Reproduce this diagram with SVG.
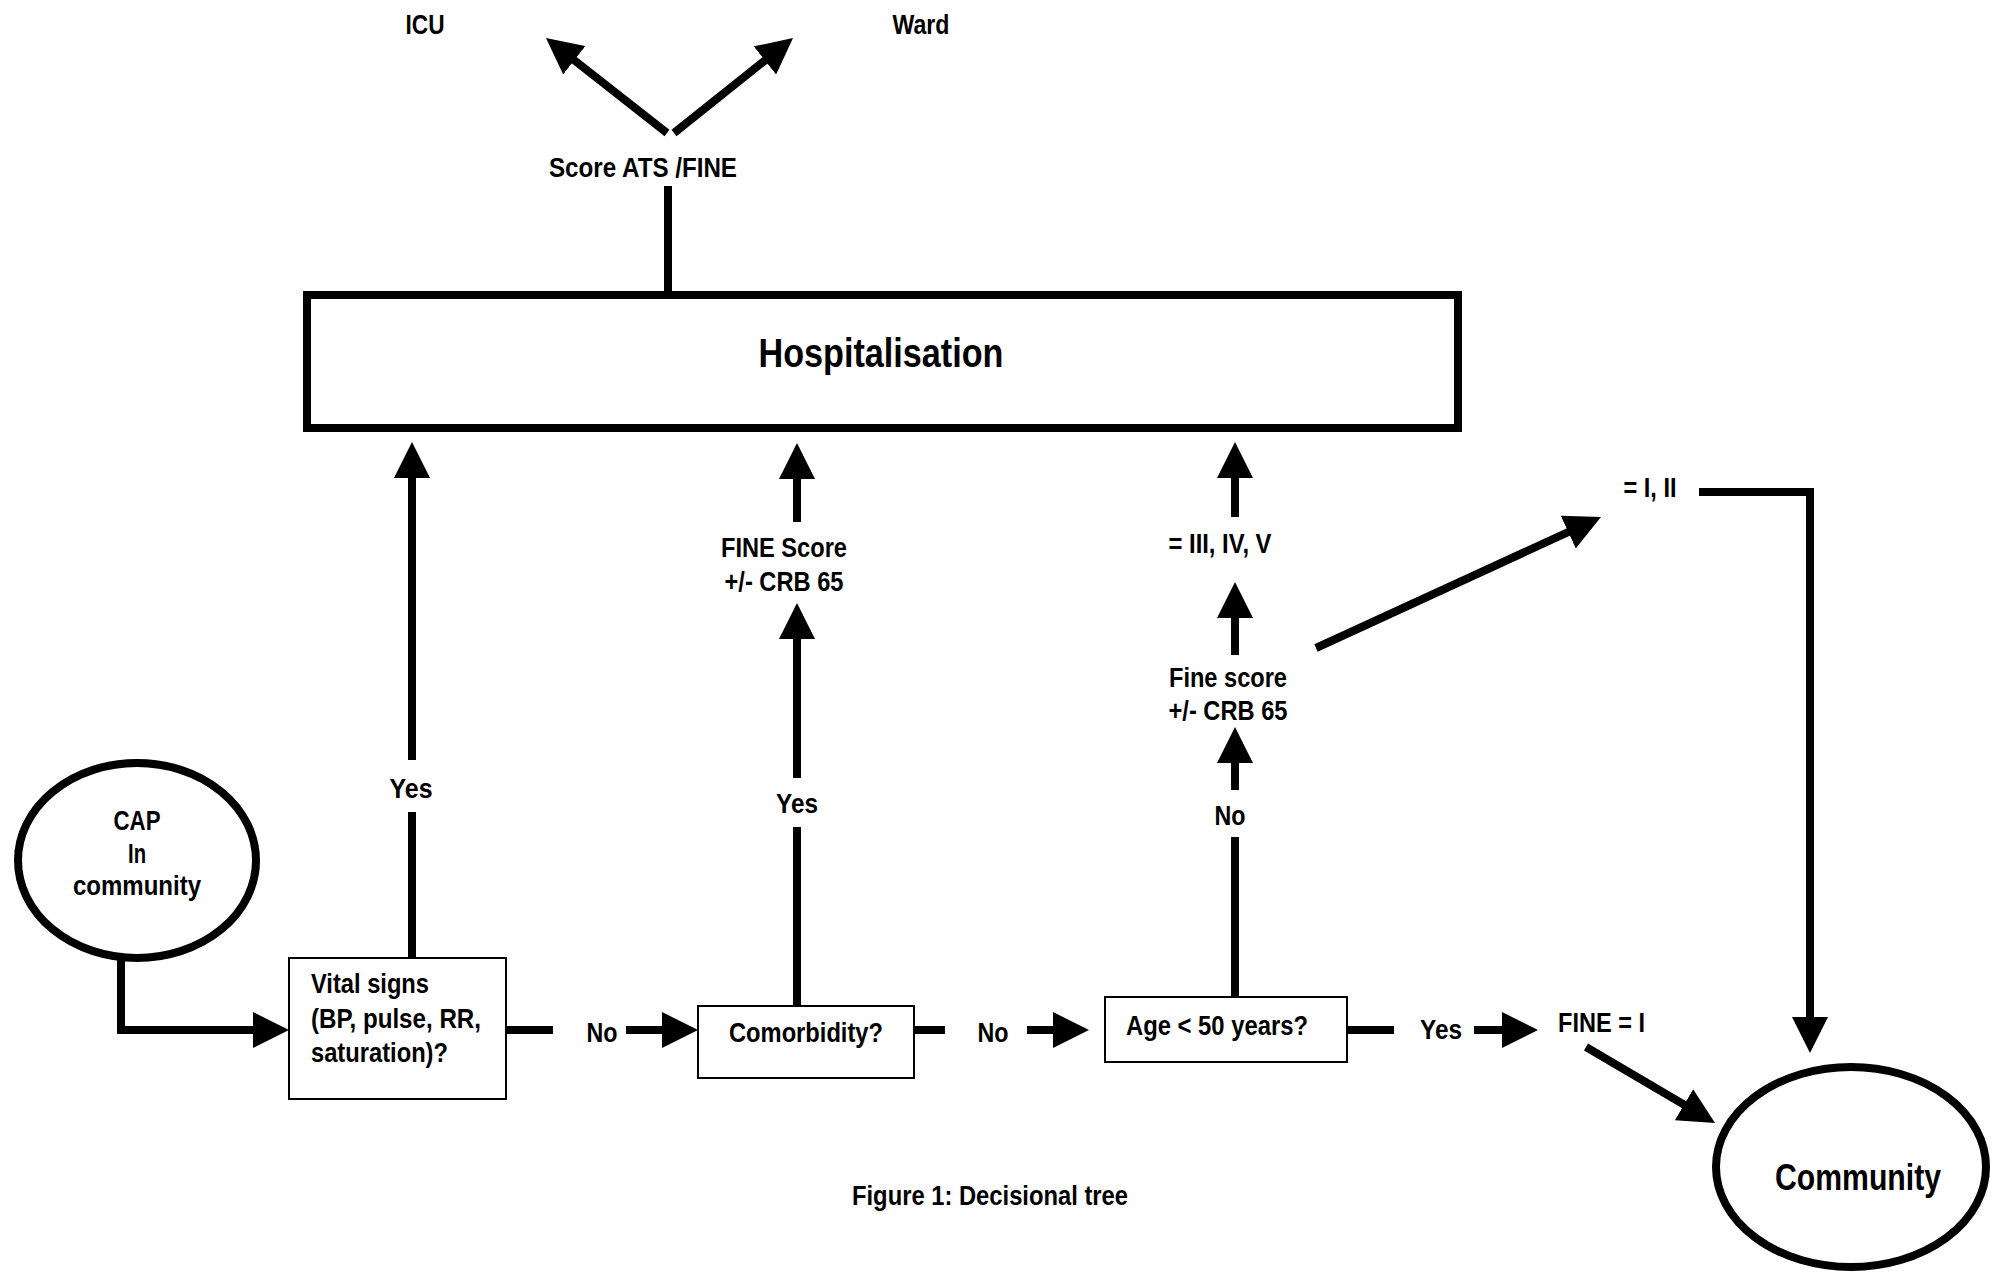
<svg xmlns="http://www.w3.org/2000/svg" width="1993" height="1275" viewBox="0 0 1993 1275">
<style>
text{font-family:"Liberation Sans",Arial,sans-serif;font-weight:bold;font-size:28px;fill:#000}
.c{text-anchor:middle}
.big{font-size:40px}
.comm{font-size:37px}
.conn{fill:none;stroke:#000;stroke-width:8;stroke-linejoin:miter}
.arr{marker-end:url(#ah)}
.box{fill:#fff;stroke:#000;stroke-width:2}
.thick{fill:#fff;stroke:#000;stroke-width:8}
</style>
<defs>
<marker id="ah" markerUnits="userSpaceOnUse" markerWidth="36" markerHeight="36" viewBox="0 0 36 36" refX="16" refY="18" orient="auto">
<path d="M0,0 L36,18 L0,36 Z" fill="#000"/>
</marker>
</defs>
<rect width="1993" height="1275" fill="#fff"/>
<g id="connectors">
<line class="conn arr" x1="667" y1="133" x2="561.7" y2="50.4"/>
<line class="conn arr" x1="674" y1="133" x2="777.4" y2="50.5"/>
<line class="conn" x1="668" y1="186" x2="668" y2="295"/>
<path class="conn arr" d="M121,955 V1030 H269"/>
<line class="conn" x1="412" y1="958" x2="412" y2="812"/>
<line class="conn arr" x1="412" y1="760" x2="412" y2="462"/>
<line class="conn" x1="506" y1="1030" x2="553" y2="1030"/>
<line class="conn arr" x1="626" y1="1030" x2="678" y2="1030"/>
<line class="conn" x1="797" y1="1006" x2="797" y2="827"/>
<line class="conn arr" x1="797" y1="778" x2="797" y2="623"/>
<line class="conn arr" x1="797" y1="522" x2="797" y2="463"/>
<line class="conn" x1="914" y1="1030" x2="945" y2="1030"/>
<line class="conn arr" x1="1027" y1="1030" x2="1069" y2="1030"/>
<line class="conn" x1="1235" y1="997" x2="1235" y2="837"/>
<line class="conn arr" x1="1235" y1="790" x2="1235" y2="747"/>
<line class="conn arr" x1="1235" y1="655" x2="1235" y2="602"/>
<line class="conn arr" x1="1235" y1="517" x2="1235" y2="462"/>
<line class="conn arr" x1="1316" y1="648" x2="1582.8" y2="525.4"/>
<path class="conn arr" d="M1699,492 H1810 V1033"/>
<line class="conn" x1="1347" y1="1030" x2="1394" y2="1030"/>
<line class="conn arr" x1="1474" y1="1030" x2="1518" y2="1030"/>
<line class="conn arr" x1="1586" y1="1047" x2="1697.8" y2="1112.8"/>
</g>
<g id="labels">
<text class="c" x="425" y="34" textLength="39" lengthAdjust="spacingAndGlyphs">ICU</text>
<text class="c" x="921" y="34" textLength="57" lengthAdjust="spacingAndGlyphs">Ward</text>
<text class="c" x="643" y="177" textLength="188" lengthAdjust="spacingAndGlyphs">Score ATS /FINE</text>
<text class="c" x="411" y="798" textLength="43" lengthAdjust="spacingAndGlyphs">Yes</text>
<text class="c" x="797" y="813" textLength="42" lengthAdjust="spacingAndGlyphs">Yes</text>
<text class="c" x="784" y="557" textLength="126" lengthAdjust="spacingAndGlyphs">FINE Score</text>
<text class="c" x="784" y="591" textLength="119" lengthAdjust="spacingAndGlyphs">+/- CRB 65</text>
<text class="c" x="602" y="1042" textLength="31" lengthAdjust="spacingAndGlyphs">No</text>
<text class="c" x="993" y="1042" textLength="31" lengthAdjust="spacingAndGlyphs">No</text>
<text class="c" x="1230" y="825" textLength="31" lengthAdjust="spacingAndGlyphs">No</text>
<text class="c" x="1228" y="687" textLength="118" lengthAdjust="spacingAndGlyphs">Fine score</text>
<text class="c" x="1228" y="720" textLength="119" lengthAdjust="spacingAndGlyphs">+/- CRB 65</text>
<text class="c" x="1220" y="553" textLength="103" lengthAdjust="spacingAndGlyphs">= III, IV, V</text>
<text class="c" x="1650" y="497" textLength="53" lengthAdjust="spacingAndGlyphs">= I, II</text>
<text class="c" x="1441" y="1039" textLength="42" lengthAdjust="spacingAndGlyphs">Yes</text>
<text x="1558" y="1032" textLength="87" lengthAdjust="spacingAndGlyphs">FINE = I</text>
<text class="c" x="990" y="1205" textLength="276" lengthAdjust="spacingAndGlyphs">Figure 1: Decisional tree</text>
</g>
<g id="hospitalisation">
<rect class="thick" x="307" y="295" width="1151" height="133"/>
<text class="c big" x="881" y="367" textLength="245" lengthAdjust="spacingAndGlyphs">Hospitalisation</text>
</g>
<g id="cap">
<ellipse class="thick" cx="137" cy="860.5" rx="119" ry="97.5"/>
<text class="c" x="137" y="830" textLength="47" lengthAdjust="spacingAndGlyphs">CAP</text>
<text class="c" x="137" y="863" textLength="18" lengthAdjust="spacingAndGlyphs">In</text>
<text class="c" x="137" y="895" textLength="128" lengthAdjust="spacingAndGlyphs">community</text>
</g>
<g id="vital">
<rect class="box" x="289" y="958" width="217" height="141"/>
<text x="311" y="993" textLength="118" lengthAdjust="spacingAndGlyphs">Vital signs</text>
<text x="311" y="1028" textLength="170" lengthAdjust="spacingAndGlyphs">(BP, pulse, RR,</text>
<text x="311" y="1062" textLength="137" lengthAdjust="spacingAndGlyphs">saturation)?</text>
</g>
<g id="comorbidity">
<rect class="box" x="698" y="1006" width="216" height="72"/>
<text class="c" x="806" y="1042" textLength="154" lengthAdjust="spacingAndGlyphs">Comorbidity?</text>
</g>
<g id="age">
<rect class="box" x="1105" y="997" width="242" height="65"/>
<text x="1126" y="1035" textLength="182" lengthAdjust="spacingAndGlyphs">Age &lt; 50 years?</text>
</g>
<g id="community">
<ellipse class="thick" cx="1851" cy="1167" rx="135" ry="100"/>
<text class="c comm" x="1858" y="1190" textLength="166" lengthAdjust="spacingAndGlyphs">Community</text>
</g>
</svg>
